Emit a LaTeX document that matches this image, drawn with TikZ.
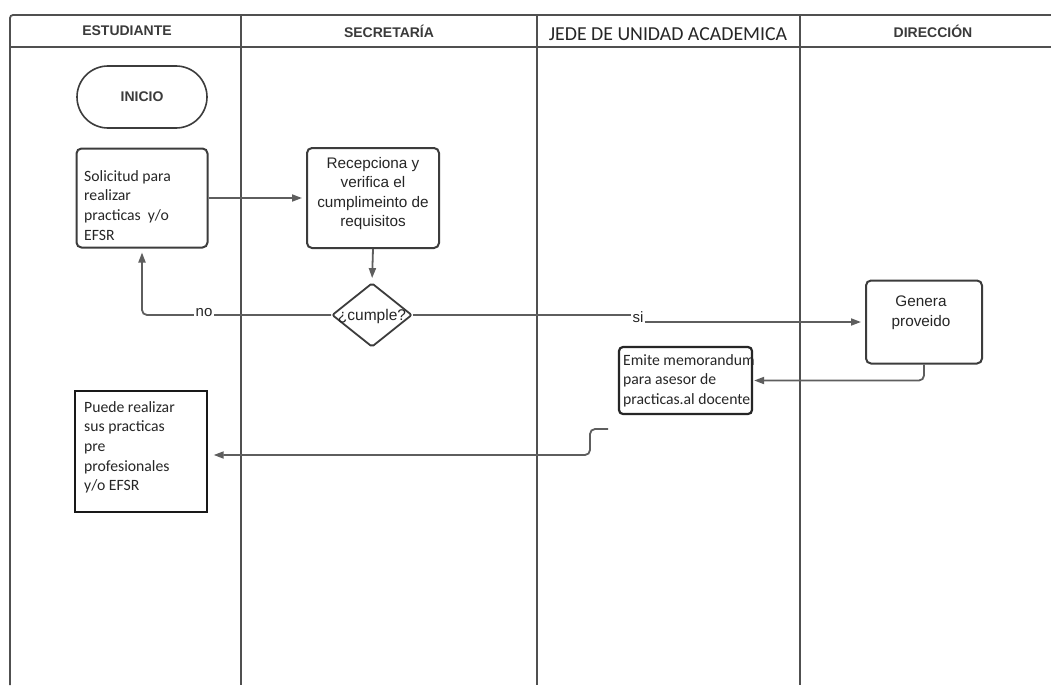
\documentclass[tikz,border=0pt]{standalone}
\usepackage{fontspec}
\setmainfont{Liberation Sans}
\newfontfamily\calib{Carlito}
\usetikzlibrary{arrows.meta,shapes.geometric}
\definecolor{framecol}{HTML}{505050}
\definecolor{conncol}{HTML}{5E5E5E}
\definecolor{bordcol}{HTML}{3C3C3C}
\definecolor{txtcol}{HTML}{262626}
\definecolor{hdrcol}{HTML}{3A3A3A}
\begin{document}
\begin{tikzpicture}[x=1pt,y=-1pt,
  lane/.style={draw=framecol, line width=1.8pt},
  hdr/.style={font=\bfseries\fontsize{14}{17}\selectfont, text=hdrcol, inner sep=0},
  boxr/.style={draw=bordcol, line width=2pt, rounded corners=5pt, inner sep=0},
  ar/.style={font=\fontsize{15.3}{19.5}\selectfont, text=txtcol, inner sep=0},
  ca/.style={font=\calib\fontsize{15.7}{19.7}\selectfont, text=txtcol, inner sep=0},
  flow/.style={draw=conncol, line width=1.8pt, -{Triangle[length=10pt,width=7pt]}, shorten >=4pt},
  plain/.style={draw=conncol, line width=1.8pt},
  lbl/.style={font=\fontsize{15}{17}\selectfont, text=txtcol, fill=white, inner sep=1.5pt}
]
\useasboundingbox (0,0) rectangle (1051,685);
\fill[white] (0,0) rectangle (1051,685);

% swimlane frame
\draw[lane, rounded corners=3pt] (10,685) -- (10,15) -- (1051,15);
\draw[lane] (10,47) -- (1051,47);
\draw[lane] (241,15) -- (241,685);
\draw[lane] (537,15) -- (537,685);
\draw[lane] (800,15) -- (800,685);

% headers
\node[hdr] (h1) at (127,31) {ESTUDIANTE};
\node[hdr] (h2) at (389,31) {SECRETARÍA};
\node[font=\calib\fontsize{19.8}{22}\selectfont, text=txtcol, inner sep=0] (h3) at (668,34) {JEDE DE UNIDAD ACADEMICA};
\node[hdr] (h4) at (933,31) {DIRECCIÓN};

% shapes
\node[draw=bordcol, line width=1.6pt, rounded corners=31pt, minimum width=130pt, minimum height=62pt,
      font=\bfseries\fontsize{14}{16}\selectfont, text=bordcol] (inicio) at (142,97) {INICIO};

\node[boxr, minimum width=131pt, minimum height=99pt] (sol) at (142,198) {};
\node[ca, align=left, anchor=north west] (soltxt) at (84,170) {Solicitud para\\realizar\\practicas\ \ y/o\\EFSR};

\node[boxr, minimum width=132pt, minimum height=100pt] (rec) at (373,198) {};
\node[ar, align=center, anchor=north] (rectxt) at (373,157) {Recepciona y\\verifica el\\cumplimeinto de\\requisitos};

\node[diamond, draw=bordcol, line width=1.8pt, rounded corners=2pt, minimum width=80pt, minimum height=64pt, inner sep=0] (dia) at (372,315) {};
\node[ar, font=\fontsize{15.5}{17}\selectfont] (diatxt) at (372,316) {¿cumple?};

\node[boxr, minimum width=116pt, minimum height=83pt] (gen) at (924,322) {};
\node[ar, align=center, anchor=north] (gentxt) at (921,296) {Genera\\proveido};

\node[draw=black!85, line width=2.2pt, rounded corners=4pt, minimum width=133pt, minimum height=67pt, inner sep=0] (emi) at (685.5,380.5) {};
\node[ca, align=left, anchor=north west] (emitxt) at (623,354) {Emite memorandum\\para asesor de\\practicas.al docente};

\node[draw=black!90, line width=1.4pt, minimum width=132pt, minimum height=121pt, inner sep=0] (pue) at (141,451.5) {};
\node[ca, align=left, anchor=north west] (puetxt) at (84,401) {Puede realizar\\sus practicas\\pre\\profesionales\\y/o EFSR};

% connectors
\draw[flow] (sol.east) -- (rec.west);
\draw[flow] (rec.south) -- (dia.north);
\draw[flow, rounded corners=5pt] (dia.west) -| (sol.south);
\node[lbl] (no) at (204,313) {no};

\node[lbl, fill=none, inner sep=1pt] (si) at (638,317) {si};
\draw[plain] (dia.east) -- (si.west |- dia.east);
\draw[flow] (si.east |- gen.west) -- (gen.west);

\draw[flow, rounded corners=5pt, shorten >=1pt] (gen.south) |- (emi.east);

\coordinate (mstart) at (608,429);
\coordinate (mbend) at (590,429);
\draw[flow, rounded corners=5pt, shorten >=6pt] (mstart) -- (mbend) |- ([yshift=-3.5pt]pue.east);
\end{tikzpicture}
\end{document}
